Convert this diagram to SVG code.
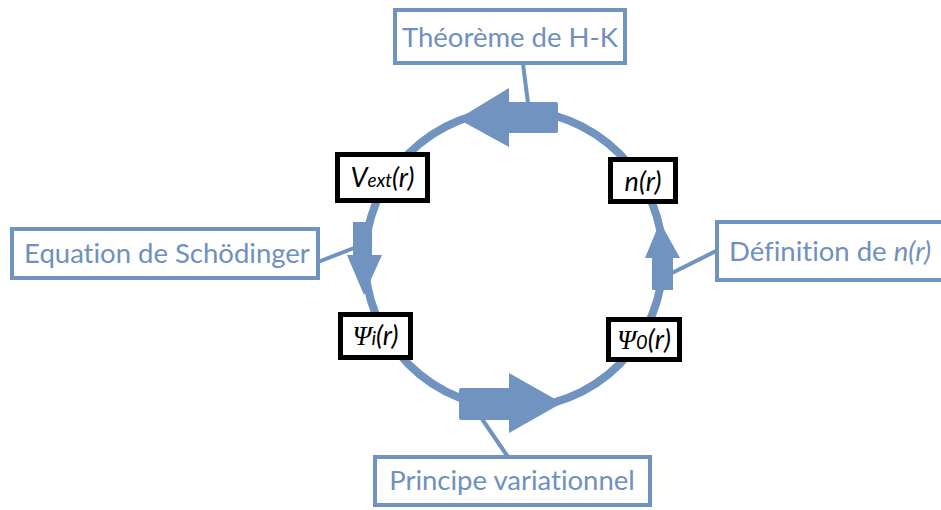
<svg xmlns="http://www.w3.org/2000/svg" width="941" height="510" viewBox="0 0 941 510">
<style>
.ring{fill:none;stroke:#7093c0;stroke-width:8}
.arr{fill:#7093c0}
.lead{stroke:#7093c0;stroke-width:4;fill:none}
.cbox{fill:#fff;stroke:#7093c0;stroke-width:4}
.ctext{font-family:Lato,"Open Sans",sans-serif;font-size:27.5px;fill:#6f90c0;font-variant-ligatures:none;font-feature-settings:"liga" 0,"dlig" 0}
.nbox{fill:#fff;stroke:#000;stroke-width:5}
.ntext{font-family:Lato,"Open Sans",sans-serif;font-style:italic;font-size:27px;fill:#000}
.psi{font-family:"Liberation Serif",serif;font-style:italic}
</style>
<rect width="941" height="510" fill="#fff"/>
<g id="connectors">
<circle class="ring" cx="514" cy="259" r="149"/>
<path class="arr" d="M509,102 H556 Q558,102 558,104 V131 Q558,133 556,133 H509 V147 L458,119 L509,88 Z"/>
<path class="arr" d="M461,388 H509 V373 L562,403 L509,433 V420 H461 Q459,420 459,418 V390 Q459,388 461,388 Z"/>
<path class="arr" d="M353,222 H372 V255 H382 L364,295 L347,255 H353 Z"/>
<path class="arr" d="M652,290 V258 H645 L660,222 L680,258 H673 V290 Z"/>
<line class="lead" x1="523" y1="64" x2="528" y2="103"/>
<line class="lead" x1="318" y1="262" x2="354" y2="248"/>
<line class="lead" x1="672" y1="273" x2="718" y2="250"/>
<line class="lead" x1="482" y1="419" x2="508" y2="457"/>
</g>
<g id="hk">
<rect class="cbox" x="395" y="10" width="230" height="53"/>
<text class="ctext" x="510" y="47" text-anchor="middle">Théorème de H-K</text>
</g>
<g id="schrodinger">
<rect class="cbox" x="12" y="229" width="306" height="49"/>
<text class="ctext" x="167" y="263" text-anchor="middle">Equation de Schödinger</text>
</g>
<g id="definition">
<rect class="cbox" x="717" y="222" width="240" height="58"/>
<text class="ctext" x="729" y="261">Définition de <tspan font-style="italic">n(r)</tspan></text>
</g>
<g id="variationnel">
<rect class="cbox" x="375" y="457" width="275" height="48"/>
<text class="ctext" x="512" y="490" text-anchor="middle">Principe variationnel</text>
</g>
<g id="vext">
<rect class="nbox" x="337.5" y="154.5" width="90" height="46"/>
<text class="ntext" x="382.5" y="187" text-anchor="middle">V<tspan font-size="19">ext</tspan>(r)</text>
</g>
<g id="nr">
<rect class="nbox" x="610.5" y="159.5" width="65" height="42"/>
<text class="ntext" x="643" y="191" text-anchor="middle" font-size="29">n(r)</text>
</g>
<g id="psi0">
<rect class="nbox" x="608.5" y="319.5" width="71" height="40"/>
<text class="ntext" x="644" y="349" text-anchor="middle"><tspan class="psi">Ψ</tspan><tspan font-size="20">0</tspan>(r)</text>
</g>
<g id="psii">
<rect class="nbox" x="340.5" y="314.5" width="70" height="43"/>
<text class="ntext" x="375.5" y="345" text-anchor="middle"><tspan class="psi">Ψ</tspan><tspan font-size="20">i</tspan>(r)</text>
</g>
</svg>
